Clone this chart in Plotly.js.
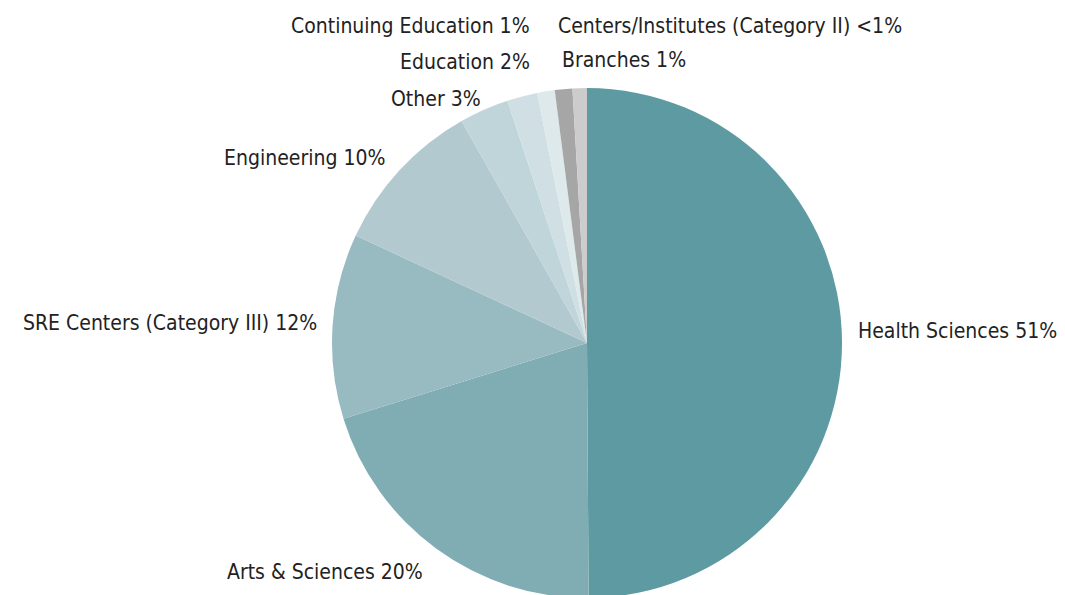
<!DOCTYPE html>
<html>
<head>
<meta charset="utf-8">
<script src="https://cdn.plot.ly/plotly-3.0.1.min.js"></script>
<style>
html,body{margin:0;padding:0;overflow:hidden;background:#fff;}
#chart{width:1065px;height:600px;}
</style>
</head>
<body>
<div id="chart"></div>
<script>
const categories = ["Health Sciences","Arts & Sciences","SRE Centers (Category III)","Engineering","Other","Education","Continuing Education","Branches","Centers/Institutes (Category II)"];
const shares = [49.4, 20.1, 11.6, 9.8, 3.1, 1.9, 1.1, 1.1, 0.9];
const shareLabels = ["51%","20%","12%","10%","3%","2%","1%","1%","<1%"];
const sliceColors = ["#5d9aa2","#7fadb3","#98bbc1","#b2cacf","#c0d5d9","#cfdfe3","#dde9eb","#a6a6a6","#cccccc"];

// plot area in pixels (layout only)
const L = 332, T = 88, W = 510, H = 510;
// label anchor points in page pixels: [x, y, side]
const labelAnchors = [
  [857, 331, "left"],
  [424, 572, "right"],
  [318, 323, "right"],
  [386, 158, "right"],
  [482, 99, "right"],
  [531, 62, "right"],
  [531, 26, "right"],
  [561, 60, "left"],
  [557, 26, "left"]
];

const annotations = categories.map((c, i) => {
  const a = labelAnchors[i];
  return {
    xref: "paper", yref: "paper",
    x: (a[0] - L) / W,
    y: (T + H - a[1]) / H,
    xanchor: a[2], yanchor: "middle",
    text: c + " " + shareLabels[i],
    showarrow: false,
    borderpad: 0,
    font: {family: "DejaVu Sans Condensed, DejaVu Sans", size: 21, color: "#222222"}
  };
});

Plotly.newPlot("chart", [{
  type: "pie",
  labels: categories,
  values: shares,
  textinfo: "none",
  sort: false,
  direction: "clockwise",
  rotation: 0,
  marker: {colors: sliceColors, line: {width: 0}},
  automargin: false,
  showlegend: false,
  hoverinfo: "none"
}], {
  width: 1065, height: 600,
  margin: {l: L, r: 1065 - L - W, t: T, b: 600 - T - H},
  paper_bgcolor: "#ffffff",
  showlegend: false,
  annotations: annotations
}, {displayModeBar: false, staticPlot: true});
</script>
</body>
</html>
